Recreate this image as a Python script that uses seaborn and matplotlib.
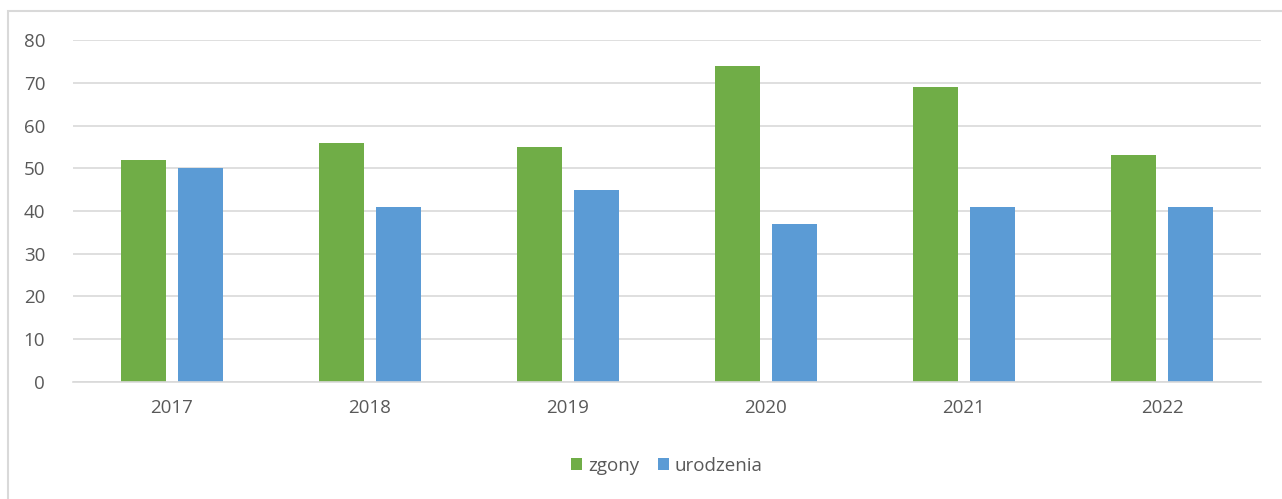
import numpy as np
import pandas as pd
import seaborn as sns
import matplotlib.pyplot as plt
from matplotlib.patches import Rectangle

years = ["2017", "2018", "2019", "2020", "2021", "2022"]
zgony = [52, 56, 55, 74, 69, 53]
urodzenia = [50, 41, 45, 37, 41, 41]
series = ["zgony", "urodzenia"]
colors = ["#70AD47", "#5B9BD5"]

df = pd.DataFrame({
    "rok": years * 2,
    "wartosc": zgony + urodzenia,
    "seria": ["zgony"] * len(years) + ["urodzenia"] * len(years),
})

sns.set_theme(style="white")
plt.rcParams["font.family"] = ["Open Sans", "DejaVu Sans"]

fig = plt.figure(figsize=(12.82, 4.99), dpi=100)
ax = fig.add_axes([0.0569, 0.2345, 0.9267, 0.6853])

sns.barplot(data=df, x="rok", y="wartosc", hue="seria", hue_order=series,
            palette=colors, width=0.576, gap=0.21, ax=ax, saturation=1,
            edgecolor="none", legend=True)

ax.set_ylim(0, 80)
ax.set_yticks(np.arange(0, 81, 10))
ax.set_xlim(-0.5, len(years) - 0.5)
ax.set_xlabel("")
ax.set_ylabel("")
ax.yaxis.grid(True, color="#D9D9D9", linewidth=1.2)
ax.set_axisbelow(True)
for s in ["top", "right", "left"]:
    ax.spines[s].set_visible(False)
ax.spines["bottom"].set_color("#D9D9D9")
ax.spines["bottom"].set_linewidth(1.2)
ax.tick_params(axis="both", length=0, labelsize=13.5, colors="#595959")
ax.tick_params(axis="y", pad=20)
ax.tick_params(axis="x", pad=12)

leg = ax.legend(loc="center", bbox_to_anchor=(0.5, -0.245), ncol=2, frameon=False,
                fontsize=13.5, handlelength=0.6, handleheight=0.6,
                handletextpad=0.3, columnspacing=1.0)
for t in leg.get_texts():
    t.set_color("#595959")

fig.patches.append(Rectangle((8 / 1282, -0.1), 1.2, 1.1 - 11 / 499,
                             transform=fig.transFigure, fill=False,
                             edgecolor="#D9D9D9", linewidth=1.5))

fig.savefig("out.png", dpi=100)
